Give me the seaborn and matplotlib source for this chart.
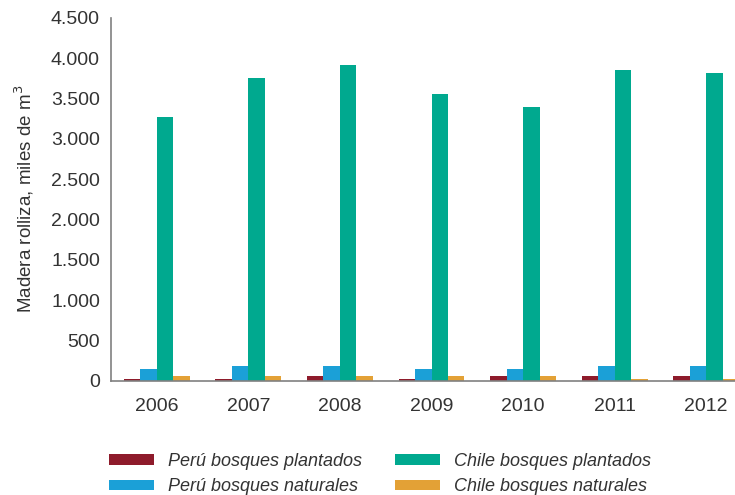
import matplotlib
matplotlib.use("Agg")
import matplotlib.pyplot as plt
import matplotlib.ticker as mticker
import seaborn as sns
import pandas as pd

years = ["2006", "2007", "2008", "2009", "2010", "2011", "2012"]
peru_plantados = [21, 21, 55, 21, 55, 55, 55]
peru_naturales = [150, 183, 183, 150, 150, 183, 183]
chile_plantados = [3267, 3757, 3918, 3562, 3391, 3851, 3819]
chile_naturales = [55, 55, 55, 55, 55, 18, 18]
series_names = ["Perú bosques plantados", "Perú bosques naturales",
                "Chile bosques plantados", "Chile bosques naturales"]
colors = ["#8E1B2B", "#1BA0D7", "#00A98F", "#E3A136"]

rows = []
for name, vals in zip(series_names, [peru_plantados, peru_naturales, chile_plantados, chile_naturales]):
    for y, v in zip(years, vals):
        rows.append({"Año": y, "Serie": name, "Valor": v})
df = pd.DataFrame(rows)

sns.set_style("white")
plt.rcParams["font.family"] = ["Liberation Sans", "DejaVu Sans"]

W, H = 735, 495
fig = plt.figure(figsize=(W / 100, H / 100), dpi=100)
left, right = 111 / W, 752 / W
bottom, top = 1 - 380.7 / H, 1 - 18 / H
ax = fig.add_axes([left, bottom, right - left, top - bottom])

sns.barplot(data=df, x="Año", y="Valor", hue="Serie", hue_order=series_names,
            palette=colors, width=0.72, saturation=1, ax=ax, legend=True, linewidth=0)

ax.set_ylim(0, 4500)
ax.set_xlim(-0.5, 6.5)
ax.set_yticks(range(0, 4501, 500))
ax.yaxis.set_major_formatter(mticker.FuncFormatter(lambda v, p: f"{int(v):,}".replace(",", ".")))
ax.set_xlabel("")
ax.set_ylabel("Madera rolliza, miles de m$^3$", fontsize=13.5, color="#333333", labelpad=11)
ax.tick_params(axis="both", length=0, labelsize=14, labelcolor="#333333")
ax.tick_params(axis="x", pad=12.5)
ax.tick_params(axis="y", pad=8)
for s in ["top", "right"]:
    ax.spines[s].set_visible(False)
for s in ["left", "bottom"]:
    ax.spines[s].set_color("#808080")
    ax.spines[s].set_linewidth(1.2)

handles, labels = ax.get_legend_handles_labels()
ax.get_legend().remove()
leg = fig.legend(handles, labels, loc="upper left", bbox_to_anchor=(109 / W, 1 - 453 / H),
                 ncol=2, frameon=False, borderaxespad=0, borderpad=0,
                 handlelength=2.5, handleheight=0.5, handletextpad=0.75,
                 columnspacing=1.85, labelspacing=0.45,
                 prop={"style": "italic", "size": 13})
for t in leg.get_texts():
    t.set_color("#333333")

fig.savefig("out.png", dpi=100)
